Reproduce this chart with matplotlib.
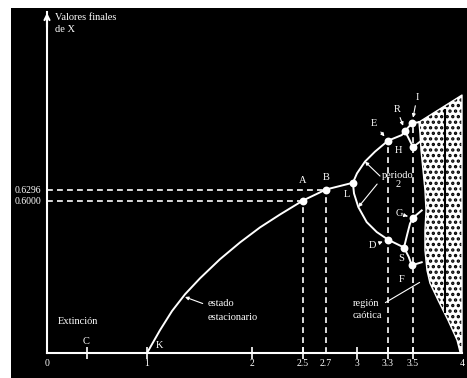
import numpy as np
import matplotlib
matplotlib.use("Agg")
import matplotlib.pyplot as plt

plt.rcParams['font.family'] = ['Liberation Serif', 'DejaVu Serif']
plt.rcParams['hatch.linewidth'] = 1.6

# the drawing is schematic: axis positions of the labelled values
r_knots = [-1, 0, 1, 2, 2.5, 2.7, 3, 3.3, 3.5, 4, 5]
r_pix = [-54, 47, 147, 252, 303, 326, 357, 388, 413, 462, 560]
v_knots = [-1, 0, 0.6, 0.6296, 1.0, 2.0]
v_pix = [-255, 0, 152.5, 163.5, 257.95, 512.95]

# steady state branch (K -> A -> B -> L)
curve_r = [1.0, 1.124, 1.238, 1.362, 1.505, 1.695, 1.886, 2.078, 2.275, 2.5, 2.7, 2.96]
curve_x = [0.0, 0.090, 0.165, 0.231, 0.294, 0.369, 0.435, 0.494, 0.545, 0.6, 0.6296, 0.656]

# period 2 branches
upper_r = [2.96, 3.0, 3.077, 3.174, 3.3, 3.41, 3.436]
upper_x = [0.656, 0.693, 0.739, 0.778, 0.821, 0.843, 0.859]
lower_r = [2.96, 2.971, 3.013, 3.094, 3.191, 3.3, 3.428]
lower_x = [0.656, 0.619, 0.574, 0.515, 0.476, 0.446, 0.415]

# period 4 branches
p4a_r = [3.436, 3.492, 3.571]
p4a_x = [0.859, 0.890, 0.894]
p4b_r = [3.436, 3.5, 3.582]
p4b_x = [0.859, 0.796, 0.820]
p4c_r = [3.428, 3.455, 3.476, 3.5, 3.589]
p4c_x = [0.415, 0.469, 0.509, 0.532, 0.561]
p4d_r = [3.428, 3.466, 3.49, 3.589]
p4d_x = [0.415, 0.378, 0.345, 0.357]

# chaotic region outline
chaos_r = [3.561, 4.0, 4.0, 3.98, 3.949, 3.857, 3.755, 3.673, 3.643, 3.622,
           3.622, 3.633, 3.622, 3.602, 3.582, 3.571, 3.561]
chaos_x = [0.894, 1.0, 0.0, 0.004, 0.051, 0.129, 0.208, 0.275, 0.325, 0.404,
           0.482, 0.561, 0.628, 0.706, 0.784, 0.851, 0.894]
chaos_line_r = [3.827, 3.827]
chaos_line_x = [0.941, 0.161]

# labelled points
pt_names = ['A', 'B', 'L', 'E', 'R', 'I', 'H', 'D', 'S', 'G', 'F']
pt_r = [2.5, 2.7, 2.96, 3.3, 3.436, 3.492, 3.5, 3.3, 3.428, 3.5, 3.49]
pt_x = [0.6, 0.6296, 0.656, 0.821, 0.859, 0.890, 0.796, 0.446, 0.415, 0.532, 0.345]

xtick_vals = [0, 1, 2, 2.5, 2.7, 3, 3.3, 3.5, 4]
xtick_labels = ['0', '1', '2', '2.5', '2.7', '3', '3.3', '3.5', '4']
ytick_vals = [0.6, 0.6296]
ytick_labels = ['0.6000', '0.6296']


def fx(r):
    return np.interp(r, r_knots, r_pix)


def fx_inv(p):
    return np.interp(p, r_pix, r_knots)


def fy(v):
    return np.interp(v, v_knots, v_pix)


def fy_inv(h):
    return np.interp(h, v_pix, v_knots)


def pic(xp, yp):
    # position given in picture pixels -> data
    return (float(fx_inv(xp)), float(fy_inv(353 - yp)))


fig = plt.figure(figsize=(4.67, 3.78), dpi=100, facecolor='white')
ax = fig.add_axes([11 / 467, 0, 456 / 467, 370 / 378], facecolor='black')
ax.set_xscale('function', functions=(fx, fx_inv))
ax.set_yscale('function', functions=(fy, fy_inv))
ax.set_xlim(float(fx_inv(11)), float(fx_inv(467)))
ax.set_ylim(float(fy_inv(-25)), float(fy_inv(345)))

W = 'white'
lw = 1.4

# chaotic region
ax.fill(chaos_r, chaos_x, facecolor='white', edgecolor='black', hatch='...', linewidth=0, zorder=2)
ax.plot(chaos_r, chaos_x, color=W, lw=1.0, zorder=3)
ax.plot(chaos_line_r, chaos_line_x, color='black', lw=1.5, zorder=3)

# dashed guides
dash = dict(color=W, lw=1.2, dashes=(3.5, 2.5), zorder=1)
ax.plot([0, pt_r[0]], [pt_x[0], pt_x[0]], **dash)
ax.plot([0, pt_r[1]], [pt_x[1], pt_x[1]], **dash)
ax.plot([pt_r[0], pt_r[0]], [0, pt_x[0]], **dash)
ax.plot([pt_r[1], pt_r[1]], [0, pt_x[1]], **dash)
ax.plot([pt_r[3], pt_r[3]], [0, pt_x[3]], **dash)
ax.plot([pt_r[6], pt_r[6]], [0, pt_x[5]], **dash)

# branches
for rr, xx in [(curve_r, curve_x), (upper_r, upper_x), (lower_r, lower_x),
               (p4a_r, p4a_x), (p4b_r, p4b_x), (p4c_r, p4c_x), (p4d_r, p4d_x)]:
    ax.plot(rr, xx, color=W, lw=lw, zorder=4, solid_joinstyle='round')

ax.scatter(pt_r, pt_x, s=32, color=W, zorder=5, linewidths=0)

# axes
for s in ['top', 'right']:
    ax.spines[s].set_visible(False)
ax.spines['bottom'].set_position(('data', 0))
ax.spines['left'].set_position(('data', 0))
ax.spines['bottom'].set_bounds(0, 4)
ax.spines['left'].set_bounds(0, pic(47, 12)[1])
for s in ['bottom', 'left']:
    ax.spines[s].set_color(W)
    ax.spines[s].set_linewidth(1.5)
ax.annotate('', xy=pic(47, 10), xytext=pic(47, 30),
            arrowprops=dict(arrowstyle='->', color=W, lw=1.5, mutation_scale=9))

ax.set_xticks(xtick_vals, xtick_labels)
ax.set_xticks([0.4], minor=True)
ax.tick_params(axis='x', which='both', colors=W, direction='inout', length=8,
               width=1.2, pad=0, labelsize=7)
for i in [0, 4, 8]:
    ax.xaxis.get_major_ticks()[i].tick1line.set_visible(False)
ax.set_yticks(ytick_vals, ytick_labels)
ax.tick_params(axis='y', colors=W, length=0, pad=4, labelsize=7)

txt = dict(color=W, fontsize=7.5)
ax.text(*pic(55, 18), 'Valores finales', ha='left', va='center', **txt)
ax.text(*pic(55, 30), 'de X', ha='left', va='center', **txt)
ax.text(*pic(58, 322), 'Extinción', ha='left', va='center', **txt)
ax.text(*pic(208, 304), 'estado', ha='left', va='center', **txt)
ax.text(*pic(208, 317), 'estacionario', ha='left', va='center', **txt)
ax.text(*pic(353, 303), 'región', ha='left', va='center', **txt)
ax.text(*pic(353, 316), 'caótica', ha='left', va='center', **txt)
ax.text(*pic(398, 180), 'periodo\n2', ha='center', va='center', linespacing=1.1, **txt)
ax.text(*pic(86, 341), 'C', ha='center', va='center', **txt)
ax.text(*pic(159, 346), 'K', ha='center', va='center', **txt)

arr = dict(arrowstyle='-|>', color=W, lw=0.8, mutation_scale=5, shrinkA=1, shrinkB=4)
ax.annotate('', xy=pic(185, 297), xytext=pic(204, 304), arrowprops=dict(arr, shrinkB=0))
ax.annotate('', xy=pic(422, 281), xytext=pic(383, 304), arrowprops=dict(arrowstyle='-', color=W, lw=0.8))
ax.annotate('', xy=(upper_r[2], upper_x[2]), xytext=pic(381, 177), arrowprops=dict(arr, shrinkB=0))
ax.annotate('', xy=(lower_r[2], lower_x[2]), xytext=pic(378, 183), arrowprops=dict(arr, shrinkB=0))

# point labels: offsets in pixels, arrow or not
offsets = {'A': (0, 20, False), 'B': (0, 12, False), 'L': (-6, -12, False),
           'E': (-14, 17, True), 'R': (-8, 22, True), 'I': (5, 26, True),
           'H': (-15, -3, False), 'D': (-16, -6, True), 'S': (-3, -11, False),
           'G': (-14, 4, True), 'F': (-10, -14, False)}
for name, r, x in zip(pt_names, pt_r, pt_x):
    dx, dy, has_arrow = offsets[name]
    props = arr if has_arrow else None
    ax.annotate(name, xy=(r, x), xytext=(dx, dy), textcoords='offset pixels',
                ha='center', va='center', arrowprops=props, **txt)

fig.savefig('out.png', dpi=100, facecolor='white')
